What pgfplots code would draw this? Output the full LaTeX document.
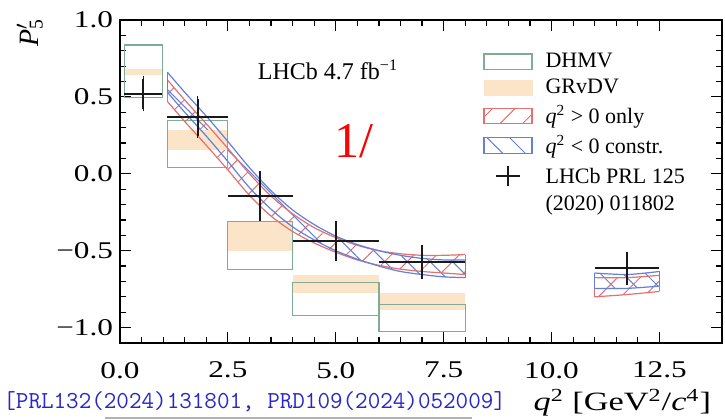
\documentclass[border=0pt]{standalone}
\usepackage{fontspec}
\setmainfont{Liberation Serif}
\newfontfamily\wideserif[FakeStretch=1.3]{Liberation Serif}
\usepackage{pgfplots}
\pgfplotsset{compat=1.18}
\usepgfplotslibrary{fillbetween}
\usetikzlibrary{patterns.meta}

\definecolor{dhmv}{RGB}{128,172,148}
\definecolor{grvdv}{RGB}{251,228,200}
\definecolor{redb}{RGB}{228,112,112}
\definecolor{blueb}{RGB}{98,128,220}
\definecolor{refblue}{RGB}{40,40,200}
\definecolor{ptc}{RGB}{25,25,25}

\begin{document}
\begin{tikzpicture}
\begin{axis}[
  name=ax,
  scale only axis, width=301pt, height=161.5pt,
  xmin=0, xmax=13.95, ymin=-1.1, ymax=1.0,
  xtick={0,2.5,5,7.5,10,12.5},
  xticklabels={0.0,2.5,5.0,7.5,10.0,12.5},
  ytick={-1,-0.5,0,0.5,1},
  yticklabels={−1.0,−0.5,0.0,0.5,1.0},
  minor x tick num=4, minor y tick num=4,
  tick align=inside,
  major tick length=5.5pt, minor tick length=3pt,
  every tick/.style={black, line width=0.6pt},
  axis line style={line width=0.6pt},
  ticklabel style={font=\wideserif\fontsize{12}{14}\selectfont},
  xticklabel style={yshift=-6pt},
  xlabel={\textit{q}\textsuperscript{2} [GeV\textsuperscript{2}/\textit{c}\textsuperscript{4}]},
  xlabel style={font=\wideserif\fontsize{13.2}{15}\selectfont, at={(axis description cs:1,0)}, anchor=east, yshift=-30pt, xshift=-2pt},
  ylabel={\textit{P}\makebox[0pt][l]{\textsuperscript{$\prime$}}\textsubscript{5}},
  ylabel style={font=\fontsize{14}{16}\selectfont, at={(axis description cs:-0.15,1.025)}, anchor=east},
  legend style={at={(axis description cs:0.593,0.917)}, anchor=north west, draw=none, fill=none,
    font=\fontsize{11}{13.5}\selectfont, row sep=2.3pt, column sep=5.5pt, nodes={inner sep=1pt}},
  legend cell align=left,
]
% legend entries
\addlegendimage{legend image code/.code={\draw[dhmv, line width=0.6pt, fill=white] (0pt,-3.9pt) rectangle (24pt,3.9pt);}}
\addlegendentry{DHMV}
\addlegendimage{legend image code/.code={\fill[grvdv] (0pt,-3.9pt) rectangle (24pt,3.9pt);}}
\addlegendentry{GRvDV}
\addlegendimage{legend image code/.code={\draw[redb, line width=0.6pt, pattern={Lines[angle=45,distance=8pt,line width=0.5pt]}, pattern color=redb] (0pt,-3.9pt) rectangle (24pt,3.9pt);}}
\addlegendentry{\textit{q}\textsuperscript{2} > 0 only}
\addlegendimage{legend image code/.code={\draw[blueb, line width=0.6pt, pattern={Lines[angle=-45,distance=8pt,line width=0.5pt]}, pattern color=blueb] (0pt,-3.9pt) rectangle (24pt,3.9pt);}}
\addlegendentry{\textit{q}\textsuperscript{2} < 0 constr.}
\addlegendimage{legend image code/.code={\draw[ptc, line width=1pt] (6pt,0pt) -- (18pt,0pt); \draw[ptc, line width=1pt] (12pt,-5pt) -- (12pt,5pt);}}
\addlegendentry{\raisebox{0pt}[\height][0pt]{\begin{tabular}[t]{@{}l@{}}LHCb PRL 125\\(2020) 011802\end{tabular}}}

% GRvDV boxes
\addplot[fill=grvdv, draw=none, forget plot] coordinates {(0.1,0.645) (0.98,0.645) (0.98,0.68) (0.1,0.68)} -- cycle;
\addplot[fill=grvdv, draw=none, forget plot] coordinates {(1.1,0.156) (2.5,0.156) (2.5,0.286) (1.1,0.286)} -- cycle;
\addplot[fill=grvdv, draw=none, forget plot] coordinates {(2.5,-0.50) (4.0,-0.50) (4.0,-0.312) (2.5,-0.312)} -- cycle;
\addplot[fill=grvdv, draw=none, forget plot] coordinates {(4.0,-0.773) (6.0,-0.773) (6.0,-0.656) (4.0,-0.656)} -- cycle;
\addplot[fill=grvdv, draw=none, forget plot] coordinates {(6.0,-0.883) (8.0,-0.883) (8.0,-0.773) (6.0,-0.773)} -- cycle;
% DHMV boxes
\addplot[draw=dhmv, line width=0.6pt, forget plot] coordinates {(0.1,0.494) (0.98,0.494) (0.98,0.838) (0.1,0.838)} -- cycle;
\addplot[draw=dhmv, line width=0.6pt, forget plot] coordinates {(1.1,0.039) (2.5,0.039) (2.5,0.344) (1.1,0.344)} -- cycle;
\addplot[draw=dhmv, line width=0.6pt, forget plot] coordinates {(2.5,-0.623) (4.0,-0.623) (4.0,-0.312) (2.5,-0.312)} -- cycle;
\addplot[draw=dhmv, line width=0.6pt, forget plot] coordinates {(4.0,-0.922) (6.0,-0.922) (6.0,-0.708) (4.0,-0.708)} -- cycle;
\addplot[draw=dhmv, line width=0.6pt, forget plot] coordinates {(6.0,-1.026) (8.0,-1.026) (8.0,-0.851) (6.0,-0.851)} -- cycle;

% red band (q2>0 only)
\addplot[name path=ru, redb, line width=0.6pt, smooth, forget plot] coordinates {(1.1,0.61) (1.5,0.48) (2.0,0.325) (2.5,0.165) (3.0,0.0) (3.5,-0.145) (4.0,-0.26) (4.5,-0.35) (5.0,-0.415) (5.5,-0.465) (6.0,-0.50) (6.5,-0.52) (7.0,-0.53) (7.5,-0.53) (8.0,-0.525)};
\addplot[name path=rl, redb, line width=0.6pt, smooth, forget plot] coordinates {(1.1,0.47) (1.5,0.34) (2.0,0.185) (2.5,0.025) (3.0,-0.14) (3.5,-0.275) (4.0,-0.375) (4.5,-0.45) (5.0,-0.51) (5.5,-0.56) (6.0,-0.595) (6.5,-0.62) (7.0,-0.635) (7.5,-0.645) (8.0,-0.655)};
\addplot[draw=none, pattern={Lines[angle=45,distance=8pt,line width=0.5pt]}, pattern color=redb, forget plot] fill between[of=ru and rl];
\addplot[redb, line width=0.6pt, forget plot] coordinates {(1.1,0.47) (1.1,0.61)};
\addplot[redb, line width=0.6pt, forget plot] coordinates {(8.0,-0.655) (8.0,-0.525)};
\addplot[name path=ru2, redb, line width=0.6pt, smooth, forget plot] coordinates {(11.0,-0.675) (11.75,-0.675) (12.5,-0.66)};
\addplot[name path=rl2, redb, line width=0.6pt, smooth, forget plot] coordinates {(11.0,-0.80) (11.75,-0.785) (12.5,-0.765)};
\addplot[draw=none, pattern={Lines[angle=45,distance=8pt,line width=0.5pt]}, pattern color=redb, forget plot] fill between[of=ru2 and rl2];
\addplot[redb, line width=0.6pt, forget plot] coordinates {(11.0,-0.80) (11.0,-0.675)};
\addplot[redb, line width=0.6pt, forget plot] coordinates {(12.5,-0.765) (12.5,-0.66)};

% blue band (q2<0 constr.)
\addplot[name path=bu, blueb, line width=0.6pt, smooth, forget plot] coordinates {(1.1,0.66) (1.5,0.53) (2.0,0.375) (2.5,0.21) (3.0,0.04) (3.5,-0.11) (4.0,-0.235) (4.5,-0.33) (5.0,-0.405) (5.5,-0.46) (6.0,-0.50) (6.5,-0.53) (7.0,-0.55) (7.5,-0.56) (8.0,-0.56)};
\addplot[name path=bl, blueb, line width=0.6pt, smooth, forget plot] coordinates {(1.1,0.53) (1.5,0.40) (2.0,0.245) (2.5,0.08) (3.0,-0.09) (3.5,-0.23) (4.0,-0.345) (4.5,-0.43) (5.0,-0.50) (5.5,-0.555) (6.0,-0.60) (6.5,-0.635) (7.0,-0.655) (7.5,-0.67) (8.0,-0.675)};
\addplot[draw=none, pattern={Lines[angle=-45,distance=8pt,line width=0.5pt]}, pattern color=blueb, forget plot] fill between[of=bu and bl];
\addplot[blueb, line width=0.6pt, forget plot] coordinates {(1.1,0.53) (1.1,0.66)};
\addplot[blueb, line width=0.6pt, forget plot] coordinates {(8.0,-0.675) (8.0,-0.56)};
\addplot[name path=bu2, blueb, line width=0.6pt, smooth, forget plot] coordinates {(11.0,-0.645) (11.75,-0.655) (12.5,-0.635)};
\addplot[name path=bl2, blueb, line width=0.6pt, smooth, forget plot] coordinates {(11.0,-0.745) (11.75,-0.745) (12.5,-0.73)};
\addplot[draw=none, pattern={Lines[angle=-45,distance=8pt,line width=0.5pt]}, pattern color=blueb, forget plot] fill between[of=bu2 and bl2];
\addplot[blueb, line width=0.6pt, forget plot] coordinates {(11.0,-0.745) (11.0,-0.645)};
\addplot[blueb, line width=0.6pt, forget plot] coordinates {(12.5,-0.73) (12.5,-0.635)};

% LHCb data
\addplot[draw=none, mark=none, forget plot,
  error bars/.cd, x dir=both, x explicit, error mark=none,
  error bar style={draw=ptc, line width=1pt}]
  table[x=x, y=y, x error=ex] {
x y ex
0.54 0.521 0.44
1.80 0.367 0.70
3.25 -0.145 0.75
5.00 -0.435 1.00
7.00 -0.575 1.00
11.75 -0.615 0.75
};
\addplot[draw=none, mark=none, forget plot,
  error bars/.cd, y dir=both, y explicit, error mark=-,
  error mark options={draw=ptc, line width=0.8pt, mark size=1.2pt},
  error bar style={draw=ptc, line width=1pt}]
  table[x=x, y=y, y error=ey] {
x y ey
0.54 0.521 0.097
1.80 0.367 0.120
3.25 -0.145 0.147
5.00 -0.435 0.114
7.00 -0.575 0.095
11.75 -0.615 0.092
};

\node[font=\fontsize{12}{14}\selectfont] at (axis cs:4.82,0.675) {LHCb 4.7 fb\textsuperscript{−1}};
\node[text=red, font=\fontsize{25}{28}\selectfont] at (axis cs:5.42,0.214) {1/};
\end{axis}
\node[anchor=west, text=refblue, font=\ttfamily\fontsize{12.2}{14}\selectfont, inner sep=0pt] at ([xshift=-58.5pt, yshift=-29.5pt]ax.south west) {[PRL132(2024)131801, PRD109(2024)052009]};
\draw[gray!60, line width=0.6pt] ([xshift=-7.5pt, yshift=-37.5pt]ax.south west) -- ([xshift=176pt, yshift=-37.5pt]ax.south west);
\pgfresetboundingbox
\path[use as bounding box] ([xshift=-60pt,yshift=-38.5pt]ax.south west) rectangle ([xshift=1.5pt,yshift=10pt]ax.north east);
\end{tikzpicture}
\end{document}
